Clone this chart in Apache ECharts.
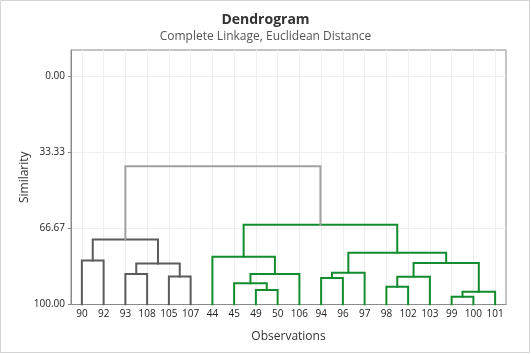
<!DOCTYPE html>
<html>
<head>
<meta charset="utf-8">
<script src="https://cdn.jsdelivr.net/npm/echarts@6/dist/echarts.min.js"></script>
<style>
html,body{margin:0;padding:0;background:#fff;}
#chart{width:531px;height:354px;}
</style>
</head>
<body>
<div id="chart"></div>
<script>
// Leaf order along the x axis
const observations = ['90','92','93','108','105','107','44','45','49','50','106','94','96','97','98','102','103','99','100','101'];
// Merges: [child A, child B, similarity]; leaves are 0..19, merge k creates cluster 20+k
const merges = [
  [0, 1, 80.7],
  [2, 3, 86.7],
  [4, 5, 87.7],
  [21, 22, 82.0],
  [20, 23, 71.5],
  [8, 9, 93.7],
  [7, 25, 90.7],
  [26, 10, 86.7],
  [6, 27, 79.1],
  [11, 12, 88.4],
  [29, 13, 86.1],
  [14, 15, 92.2],
  [31, 16, 87.8],
  [17, 18, 96.6],
  [33, 19, 94.4],
  [32, 34, 81.8],
  [30, 35, 77.3],
  [28, 36, 65.1],
  [24, 37, 39.5]
];
// Cluster group of each merge
const mergeGroups = ['A','A','A','A','A','B','B','B','B','B','B','B','B','B','B','B','B','B','top'];
const yTicks = [0, 33.33, 66.67, 100];
const groupColors = {A: '#5b5b5b', B: '#128c2e', top: '#a0a0a0'};

const n = observations.length;
const pos = [], height = [];
for (let i = 0; i < n; i++) { pos[i] = i; height[i] = 100; }
const series = [];
merges.forEach((m, k) => {
  const id = n + k;
  const [a, b, h] = m;
  pos[id] = (pos[a] + pos[b]) / 2;
  height[id] = h;
  series.push({
    type: 'line',
    xAxisIndex: 0, yAxisIndex: 0,
    symbol: 'none',
    silent: true,
    animation: false,
    lineStyle: {width: 2, color: groupColors[mergeGroups[k]], cap: 'square', join: 'miter'},
    data: [[pos[a], height[a]], [pos[a], h], [pos[b], h], [pos[b], height[b]]]
  });
});

const font = 'Open Sans';
const chart = echarts.init(document.getElementById('chart'), null, {renderer: 'canvas'});
chart.setOption({
  animation: false,
  backgroundColor: '#fff',
  textStyle: {fontFamily: font},
  title: {
    text: 'Dendrogram',
    subtext: 'Complete Linkage, Euclidean Distance',
    left: 'center', top: 8, itemGap: 4,
    textStyle: {fontFamily: font, fontSize: 14, fontWeight: 'bold', color: '#333'},
    subtextStyle: {fontFamily: font, fontSize: 12, color: '#555'}
  },
  graphic: [{
    type: 'rect', silent: true,
    shape: {x: 0.5, y: 0.5, width: 529, height: 352},
    style: {fill: 'none', stroke: '#d4d4d4', lineWidth: 1}
  }],
  grid: {
    left: 71, right: 25, top: 50, bottom: 49.5,
    show: true, borderColor: '#8a8a8a', borderWidth: 1, backgroundColor: 'transparent'
  },
  xAxis: {
    type: 'value', min: -0.5, max: 19.5,
    name: 'Observations', nameLocation: 'middle', nameGap: 26, nameMoveOverlap: false,
    nameTextStyle: {fontFamily: font, fontSize: 12, color: '#333'},
    axisLine: {show: true, onZero: false, lineStyle: {color: '#8a8a8a'}},
    axisTick: {show: false, customValues: observations.map((_, i) => i)},
    axisLabel: {
      customValues: observations.map((_, i) => i),
      formatter: v => observations[Math.round(v)],
      fontFamily: font, fontSize: 10, color: '#222', margin: 5
    },
    splitLine: {show: true, lineStyle: {color: '#efefef', width: 1}}
  },
  yAxis: {
    type: 'value', inverse: true, min: -11.4, max: 100,
    name: 'Similarity', nameLocation: 'middle', nameGap: 40, nameMoveOverlap: false,
    nameTextStyle: {fontFamily: font, fontSize: 12, color: '#333'},
    axisLine: {show: true, onZero: false, lineStyle: {color: '#8a8a8a'}},
    axisTick: {show: true, length: 3, customValues: yTicks, lineStyle: {color: '#8a8a8a'}},
    axisLabel: {
      customValues: yTicks,
      formatter: v => v.toFixed(2),
      fontFamily: font, fontSize: 10, color: '#222', margin: 6
    },
    splitLine: {show: true, lineStyle: {color: '#efefef', width: 1}}
  },
  series: series
});
</script>
</body>
</html>
